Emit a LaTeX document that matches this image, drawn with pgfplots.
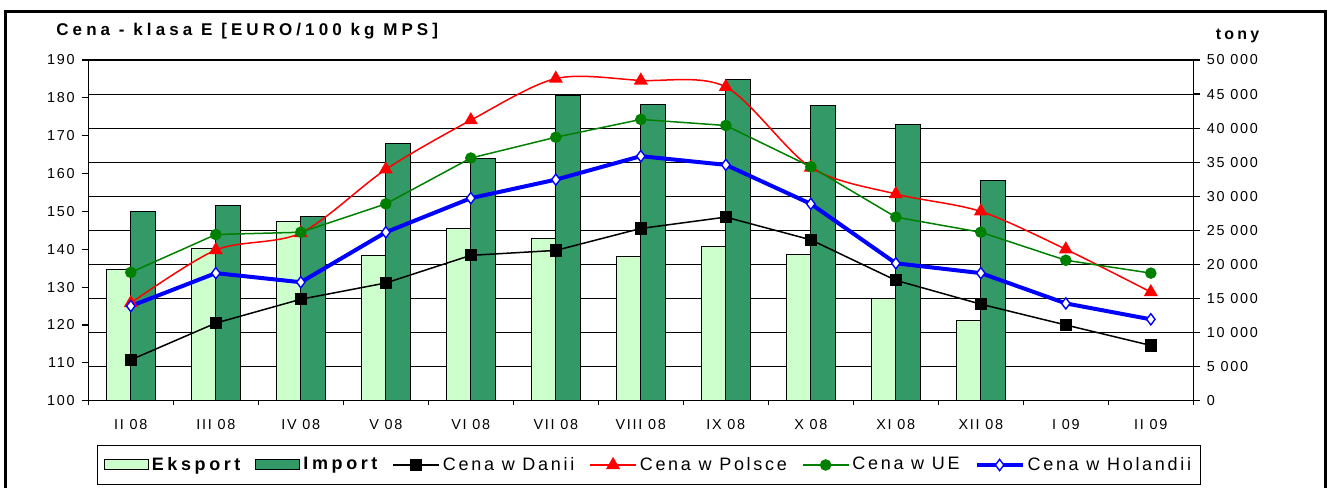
\documentclass[border=0pt]{standalone}
\usepackage{fontspec}
\setmainfont{Liberation Sans}[LetterSpace=12]
\usepackage{pgfplots}
\pgfplotsset{compat=1.18}
\definecolor{expc}{HTML}{CCFFCC}
\definecolor{impc}{HTML}{339966}
\definecolor{uec}{HTML}{008000}
\pgfplotstableread{
x dania polska ue holandia
0 110.8 125.8 133.9 125.0
1 120.5 139.8 143.9 133.7
2 126.8 144.3 144.5 131.3
3 131.1 161.1 152.0 144.5
4 138.4 174.1 164.1 153.5
5 139.7 185.1 169.6 158.4
6 145.5 184.6 174.3 164.6
7 148.5 182.9 172.7 162.3
8 142.5 161.6 161.8 152.0
9 131.8 154.6 148.5 136.3
10 125.5 150.0 144.5 133.7
11 120.0 140.0 137.1 125.7
12 114.6 128.7 133.7 121.5
}\prices
\begin{document}
\begin{tikzpicture}
\useasboundingbox (0,0) rectangle (668pt,243.5pt);
\draw[line width=1.4pt] (2.9pt,-10pt) rectangle (662.8pt,237.6pt);
\node[anchor=west,inner sep=0pt,font=\fontsize{8.5}{9}\selectfont\bfseries\addfontfeatures{LetterSpace=24}] at (28pt,228pt) {Cena - klasa E [EURO/100 kg MPS]};
\node[font=\fontsize{8}{9}\selectfont\bfseries\addfontfeatures{LetterSpace=20}] at (618.8pt,225.6pt) {tony};
\begin{axis}[
  at={(44.15pt,43.15pt)}, anchor=south west,
  scale only axis, width=552.5pt, height=170.35pt,
  xmin=-0.5, xmax=12.5, ymin=0, ymax=50000,
  scaled y ticks=false,
  axis line style={line width=0.6pt},
  tick align=outside, major tick length=3.3pt, minor tick length=2.2pt,
  tick style={black, line width=0.6pt},
  ytick={0,5000,...,50000},
  yticklabels={0,5 000,10 000,15 000,20 000,25 000,30 000,35 000,40 000,45 000,50 000},
  ytick pos=right, yticklabel pos=right,
  xtick={0,...,12},
  xticklabels={II 08,III 08,IV 08,V 08,VI 08,VII 08,VIII 08,IX 08,X 08,XI 08,XII 08,I 09,II 09},
  major x tick style={draw=none},
  minor xtick={-0.5,0.5,...,12.5},
  xtick pos=bottom,
  ticklabel style={font=\fontsize{7.2}{8}\selectfont},
  xticklabel style={yshift=-2.5pt},
  ymajorgrids, grid style={black, line width=0.5pt},
]
\addplot[ybar, bar width=12.2pt, bar shift=-6.1pt, fill=expc, draw=black, line width=0.5pt] coordinates {
(0,19300) (1,22300) (2,26370) (3,21275) (4,25290) (5,23820) (6,21180) (7,22600) (8,21470) (9,15050) (10,11810)};
\addplot[ybar, bar width=12.2pt, bar shift=6.1pt, fill=impc, draw=black, line width=0.5pt] coordinates {
(0,27700) (1,28580) (2,26960) (3,37750) (4,35490) (5,44750) (6,43480) (7,47160) (8,43280) (9,40540) (10,32250)};
\end{axis}
\begin{axis}[
  at={(44.15pt,43.15pt)}, anchor=south west,
  scale only axis, width=552.5pt, height=170.35pt,
  xmin=-0.5, xmax=12.5, ymin=100, ymax=190,
  axis line style={line width=0.6pt},
  tick align=outside, major tick length=3.3pt,
  tick style={black, line width=0.6pt},
  ytick={100,110,...,190},
  yticklabels={100,110,120,130,140,150,160,170,180,190},
  ytick pos=left,
  xtick=\empty,
  ticklabel style={font=\fontsize{7.2}{8}\selectfont},
  legend columns=6,
  legend style={at={(0.5074,-0.1887)}, anchor=center, draw=black, line width=0.5pt,
    font=\fontsize{9}{10}\selectfont\addfontfeatures{LetterSpace=15}, inner xsep=3pt, inner ysep=4pt,
    nodes={inner sep=1.5pt},
    /tikz/every even column/.append style={column sep=6pt}},
  legend cell align=left,
  legend image code/.code={\draw[mark repeat=2,mark phase=2] plot coordinates {(0pt,0pt) (11.5pt,0pt) (23pt,0pt)};},
]
\addlegendimage{legend image code/.code={\draw[draw=black,fill=expc,line width=0.5pt] (0pt,-2.5pt) rectangle (22pt,2.5pt);}}
\addlegendentry{\bfseries\addfontfeatures{LetterSpace=20}Eksport}
\addlegendimage{legend image code/.code={\draw[draw=black,fill=impc,line width=0.5pt] (0pt,-2.5pt) rectangle (22pt,2.5pt);}}
\addlegendentry{\bfseries\addfontfeatures{LetterSpace=20}Import}
\addplot[black, line width=0.75pt, mark=square*, mark size=2.7pt] table[x=x,y=dania] {\prices};
\addlegendentry{Cena w Danii}
\addplot[red, line width=0.75pt, smooth, tension=0.5, mark=triangle*, mark size=3.3pt, mark options={solid}] table[x=x,y=polska] {\prices};
\addlegendentry{Cena w Polsce}
\addplot[uec, line width=0.75pt, mark=*, mark size=2.5pt] table[x=x,y=ue] {\prices};
\addlegendentry{Cena w UE}
\addplot[blue, line width=2pt, mark=diamond*, mark size=2.8pt, mark options={fill=white, draw=blue, line width=0.7pt}] table[x=x,y=holandia] {\prices};
\addlegendentry{Cena w Holandii}
\end{axis}
\end{tikzpicture}
\end{document}
